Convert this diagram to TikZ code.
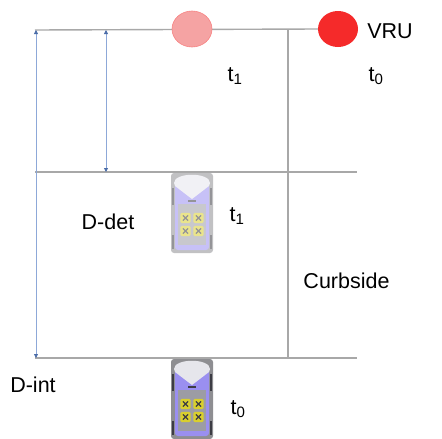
\documentclass[tikz,border=0pt]{standalone}
\usepackage{fontspec}
\setmainfont{Liberation Sans}
\usetikzlibrary{arrows.meta}

\definecolor{roadgrey}{HTML}{A8A8A8}
\definecolor{dimblue}{HTML}{8DA8D8}
\definecolor{tipblue}{HTML}{4A6CA8}
\definecolor{vrured}{HTML}{F52A2A}
\definecolor{vrupink}{HTML}{F5A3A3}
\definecolor{carbody}{HTML}{8E8E92}
\definecolor{carlav}{HTML}{9A8FF0}
\definecolor{carhood}{HTML}{E6E6EC}
\definecolor{carpanel}{HTML}{9C9CA4}
\definecolor{carseat}{HTML}{D9CF2E}
\definecolor{cardark}{HTML}{3C3C44}

\tikzset{
  road/.style={draw=roadgrey, line width=1.4pt},
  gap/.style={draw=dimblue, line width=0.8pt,
    {Triangle[length=4pt,width=4pt,color=tipblue]}-{Triangle[length=4pt,width=4pt,color=tipblue]}},
  lbl/.style={font=\fontsize{21.5}{25}\selectfont, inner sep=0pt},
  % a car seen from above; #1 is how strongly its colours show (100 = full)
  pics/car/.style={code={
    \fill[carbody!#1!white, rounded corners=3pt] (-21,-40) rectangle (21,40);
    \fill[carlav!#1!white, rounded corners=3pt] (-17,-32) rectangle (17,37);
    \fill[carhood!#1!white] (-18,-30) .. controls (-18,-41) and (18,-41) .. (18,-30)
       -- (17,-27) -- (0,-14) -- (-17,-27) -- cycle;
    \fill[cardark!#1!white] (-4,-13) rectangle (4,-11);
    \fill[carpanel!#1!white] (-14,-9) rectangle (14,32);
    \foreach \sx in {-18.8,18.8}{
      \fill[cardark!#1!white] (\sx-1.1,-25) rectangle (\sx+1.1,-8);
      \fill[cardark!#1!white] (\sx-1.1,22) rectangle (\sx+1.1,36);
    }
    \foreach \px/\py in {-6.5/5,6.5/5,-6.5/18,6.5/18}{
      \fill[carseat!#1!white, rounded corners=1.5pt] (\px-5.2,\py-5.2) rectangle (\px+5.2,\py+5.2);
      \draw[cardark!#1!white, line width=1.3pt] (\px-2.6,\py-2.6) -- (\px+2.6,\py+2.6)
        (\px+2.6,\py-2.6) -- (\px-2.6,\py+2.6);
    }
  }}
}

\begin{document}
\begin{tikzpicture}[x=1pt, y=-1pt]
  \useasboundingbox (0,0) rectangle (442,439);

  % end points of the road lines
  \coordinate (topL) at (35,30);
  \coordinate (midL) at (35,172);
  \coordinate (midR) at (357,172);
  \coordinate (botL) at (35,358);
  \coordinate (botR) at (357,358);
  \coordinate (curbT) at (288,30);
  \coordinate (curbB) at (288,358);
  \coordinate (intT) at (36,30);
  \coordinate (intB) at (36,358);
  \coordinate (detT) at (106,30);
  \coordinate (detB) at (106,172);

  % the pedestrian at both moments
  \node[circle, minimum size=38pt, inner sep=0pt] (vruOld) at (192,29) {};
  \node[circle, minimum size=38pt, inner sep=0pt] (vruNow) at (338,29) {};

  % roads and the curb
  \draw[road] (topL) -- (vruNow.west);
  \draw[road] (midL) -- (midR);
  \draw[road] (botL) -- (botR);
  \draw[road] (curbT) -- (curbB);

  \fill[vrupink, draw=vrupink!80!red, line width=0.6pt] (vruOld.center) ellipse [x radius=20, y radius=18];
  \fill[vrured] (vruNow.center) ellipse [x radius=20, y radius=18];

  % distances
  \draw[gap] (intT) -- (intB);
  \draw[gap] (detT) -- (detB);

  % the car at both moments
  \pic at (192,213) {car=55};
  \pic at (192,399) {car=100};

  % labels
  \node[lbl] (vru) at (390,31) {VRU};
  \node[lbl] (tA) at (235,76) {t\textsubscript{1}};
  \node[lbl] (tB) at (376,76) {t\textsubscript{0}};
  \node[lbl] (ddet) at (108,222) {D-det};
  \node[lbl] (tC) at (237,216) {t\textsubscript{1}};
  \node[lbl] (curb) at (346.5,281) {Curbside};
  \node[lbl] (dint) at (33,385) {D-int};
  \node[lbl] (tD) at (238,409) {t\textsubscript{0}};
\end{tikzpicture}
\end{document}
